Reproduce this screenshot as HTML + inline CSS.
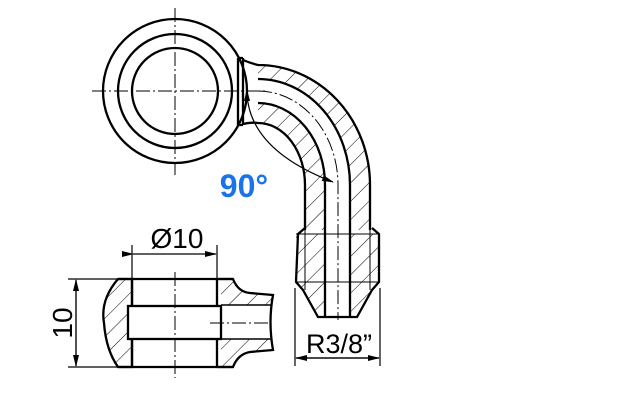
<!DOCTYPE html>
<html><head><meta charset="utf-8"><style>body{margin:0;background:#fff}svg{display:block}</style></head><body>
<svg width="620" height="400" viewBox="0 0 620 400" xmlns="http://www.w3.org/2000/svg">
<defs>
<pattern id="h" patternUnits="userSpaceOnUse" width="13" height="13" patternTransform="rotate(45)">
<line x1="0" y1="0" x2="0" y2="13" stroke="#000" stroke-width="1"/>
</pattern>
<marker id="a" markerWidth="12" markerHeight="8" refX="11" refY="4" orient="auto" markerUnits="userSpaceOnUse"><path d="M0,1 L12,4 L0,7z" fill="#000"/></marker>
</defs>
<g fill="none" stroke="#000" stroke-width="2.3">
<circle cx="175" cy="91" r="72" fill="#fff"/>
<circle cx="175" cy="91" r="57"/>
<circle cx="175" cy="91" r="43"/>
<path d="M258,65 A112,120 0 0 1 370,185 L370,230 L350,230 L350,185 A92,106 0 0 0 258,79 Z" fill="url(#h)" stroke="none"/>
<path d="M258,103 A67,82 0 0 1 325,185 L325,230 L305,230 L305,185 A47,62 0 0 0 258,123 Z" fill="url(#h)" stroke="none"/>
<path d="M243,60 Q250,63 258,65 A112,120 0 0 1 370,185 L370,230"/>
<path d="M243,124 Q250,122 258,123 A47,62 0 0 1 305,185 L305,230"/>
<path d="M258,79 A92,106 0 0 1 350,185 L350,317"/>
<path d="M258,103 A67,82 0 0 1 325,185 L325,317"/>
<path d="M243,58 L243,125 M238,58 L238,125 L243,125 M238,58 L243,58"/>
<path d="M305,228 L298,234 L296,282 L303,290 L318,317 L357,317 L372,290 L379,282 L379,234 L372,228" fill="none"/>
<path d="M296,234 L325,234 L325,317 L318,317 L303,290 L296,282 Z M350,234 L379,234 L379,282 L372,290 L357,317 L350,317 Z" fill="url(#h)" stroke="none"/>
<path d="M305,230 L305,290 M370,230 L370,290" stroke-width="1"/>
<line x1="296" y1="282" x2="379" y2="282" stroke-width="1"/>
<line x1="296" y1="234" x2="379" y2="234" stroke-width="1"/>
<path d="M118,279 Q100,300 104,323 Q106,350 118,367 L132,367 L132,279 Z" fill="url(#h)"/>
<path d="M217,279 L233,279 Q238,292 250,293 L273,295 L273,305 L221,305 L221,279 Z" fill="url(#h)" stroke="none"/>
<path d="M217,367 L233,367 Q238,354 250,352 L273,350 L273,339 L221,339 L221,367 Z" fill="url(#h)" stroke="none"/>
<path d="M217,279 L233,279 Q238,292 250,293 L273,295 Q268,322 273,350 L250,352 Q238,354 233,367 L217,367"/>
<line x1="118" y1="279" x2="233" y2="279"/>
<line x1="118" y1="367" x2="233" y2="367"/>
<line x1="132" y1="279" x2="132" y2="367"/>
<line x1="217" y1="279" x2="217" y2="367"/>
<rect x="128" y="306" width="93" height="33" fill="#fff"/>
<line x1="221" y1="305" x2="271" y2="305" stroke-width="1.5"/>
<line x1="221" y1="339" x2="271" y2="339" stroke-width="1.5"/>
</g>
<g stroke="#000" stroke-width="1" stroke-dasharray="14,3,2,3" fill="none">
<line x1="175" y1="8" x2="175" y2="175"/>
<line x1="92" y1="91" x2="265" y2="91"/>
<path d="M258,91 A80,94 0 0 1 338,185 L338,320"/>
<line x1="175" y1="272" x2="175" y2="378"/>
<line x1="210" y1="323" x2="268" y2="323"/>
</g>
<g stroke="#000" stroke-width="1.2" fill="none">
<path d="M247,94 Q250,150 333,182" marker-end="url(#a)"/>
<line x1="132" y1="245" x2="132" y2="279"/>
<line x1="217" y1="245" x2="217" y2="279"/>
<line x1="133" y1="254" x2="216" y2="254" marker-end="url(#a)" marker-start="url(#a)"/>
<line x1="68" y1="279" x2="118" y2="279"/>
<line x1="68" y1="367" x2="118" y2="367"/>
<line x1="76" y1="280" x2="76" y2="366" marker-end="url(#a)"/>
<line x1="76" y1="366" x2="76" y2="280" marker-end="url(#a)"/>
<line x1="295" y1="288" x2="295" y2="366"/>
<line x1="380" y1="288" x2="380" y2="366"/>
<line x1="296" y1="358" x2="379" y2="358" marker-end="url(#a)"/>
<line x1="379" y1="358" x2="296" y2="358" marker-end="url(#a)"/>
</g>
<path d="M247,89 L244,101 L250,101 Z" fill="#000"/>
<g font-family="Liberation Sans, sans-serif" fill="#000">
<text x="244" y="197" font-size="32" font-weight="bold" fill="#1a73e8" text-anchor="middle">90°</text>
<text x="177" y="248" font-size="28" text-anchor="middle">Ø10</text>
<text x="339" y="353" font-size="27" text-anchor="middle">R3/8”</text>
<text transform="translate(72,323) rotate(-90)" font-size="28" text-anchor="middle">10</text>
</g>
</svg>
</body></html>
